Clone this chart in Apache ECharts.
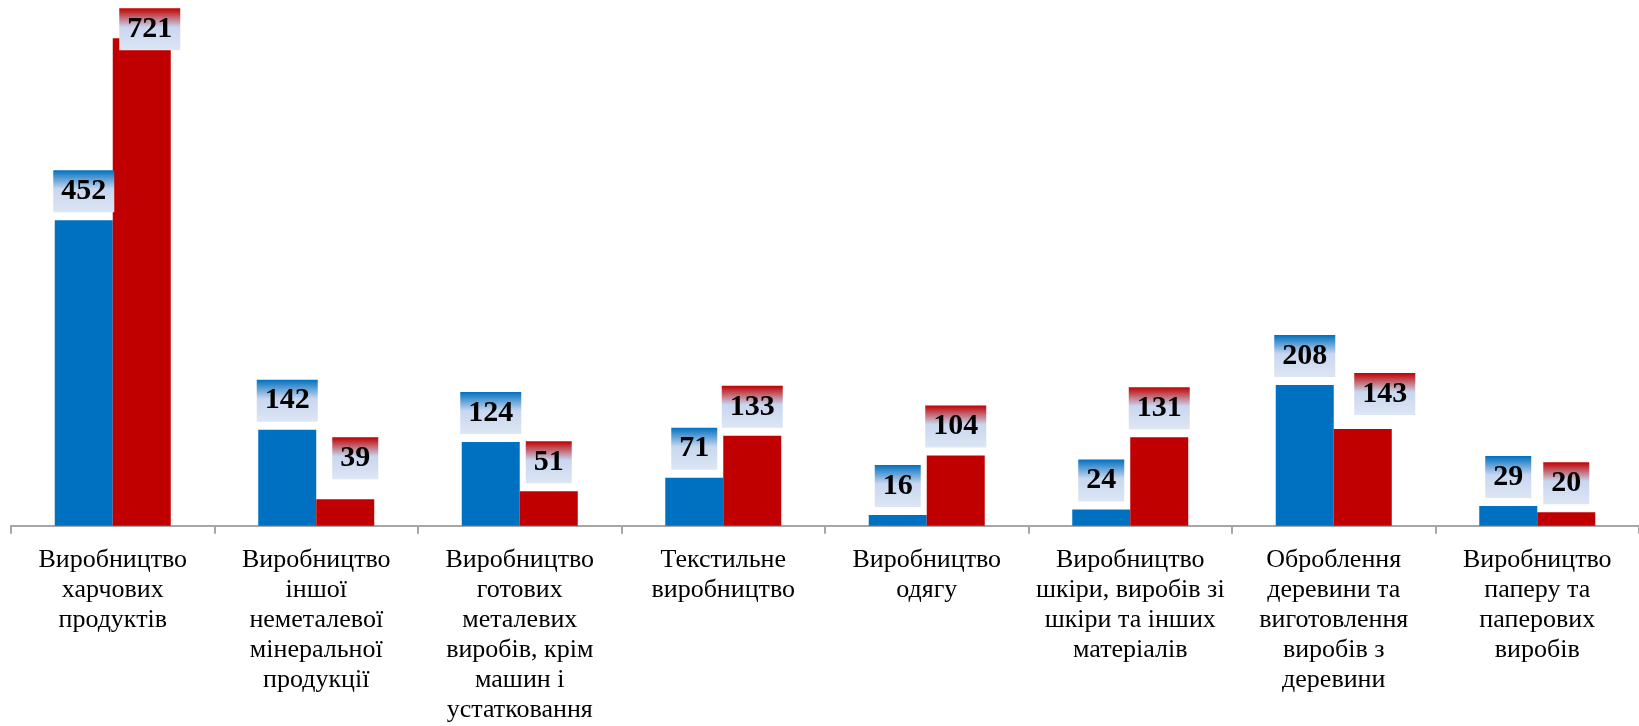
<!DOCTYPE html>
<html>
<head>
<meta charset="utf-8">
<style>
html,body{margin:0;padding:0;background:#fff;}
#chart{width:1639px;height:726px;}
</style>
<script src="https://cdn.jsdelivr.net/npm/echarts@6/dist/echarts.min.js"></script>
</head>
<body>
<div id="chart"></div>
<script>
const categories = [
  "Виробництво\nхарчових\nпродуктів",
  "Виробництво\nіншої\nнеметалевої\nмінеральної\nпродукції",
  "Виробництво\nготових\nметалевих\nвиробів, крім\nмашин і\nустатковання",
  "Текстильне\nвиробництво",
  "Виробництво\nодягу",
  "Виробництво\nшкіри, виробів зі\nшкіри та інших\nматеріалів",
  "Оброблення\nдеревини та\nвиготовлення\nвиробів з\nдеревини",
  "Виробництво\nпаперу та\nпаперових\nвиробів"
];
const blueValues = [452, 142, 124, 71, 16, 24, 208, 29];
const redValues = [721, 39, 51, 133, 104, 131, 143, 20];

const chart = echarts.init(document.getElementById('chart'), null, {renderer: 'canvas'});
const SERIF = 'Liberation Serif';

function grad(top) {
  return new echarts.graphic.LinearGradient(0, 0, 0, 1, [
    {offset: 0, color: top},
    {offset: 0.45, color: '#c8d6ef'},
    {offset: 1, color: '#dde6f4'}
  ]);
}
function labelStyle(top) {
  return {
    show: true,
    position: 'top',
    distance: 8,
    fontFamily: SERIF,
    fontWeight: 'bold',
    fontSize: 30,
    lineHeight: 30,
    color: '#000',
    padding: [6, 8, 6, 8],
    backgroundColor: grad(top)
  };
}
// Excel-style manual label nudges for a few items (by index)
const redLabelTweaks = {0: {distance: -12, offset: [8, 0]}, 1: {distance: 20, offset: [10, 0]}, 6: {distance: 14, offset: [22, 0]}};

const blueData = blueValues.map(v => ({value: v}));
const redData = redValues.map((v, i) => redLabelTweaks[i] ? {value: v, label: redLabelTweaks[i]} : {value: v});

chart.setOption({
  animation: false,
  grid: {left: 11, right: 0, top: 18.7, bottom: 200.3, containLabel: false},
  xAxis: {
    type: 'category',
    data: categories,
    axisLine: {show: true, lineStyle: {color: '#a6a6a6', width: 2}},
    axisTick: {show: true, alignWithLabel: false, length: 8, lineStyle: {color: '#a6a6a6', width: 2}},
    axisLabel: {
      interval: 0,
      margin: 19,
      fontFamily: SERIF,
      fontSize: 26,
      lineHeight: 30,
      color: '#000',
      align: 'center'
    }
  },
  yAxis: {type: 'value', min: 0, max: 750, show: false, splitLine: {show: false}},
  series: [
    {
      type: 'bar', data: blueData, barWidth: 58, barGap: '0%',
      itemStyle: {color: '#0070c0'},
      label: labelStyle('#0070c0')
    },
    {
      type: 'bar', data: redData, barWidth: 58, barGap: '0%',
      itemStyle: {color: '#c00000'},
      label: labelStyle('#c00000')
    }
  ]
});
</script>
</body>
</html>
